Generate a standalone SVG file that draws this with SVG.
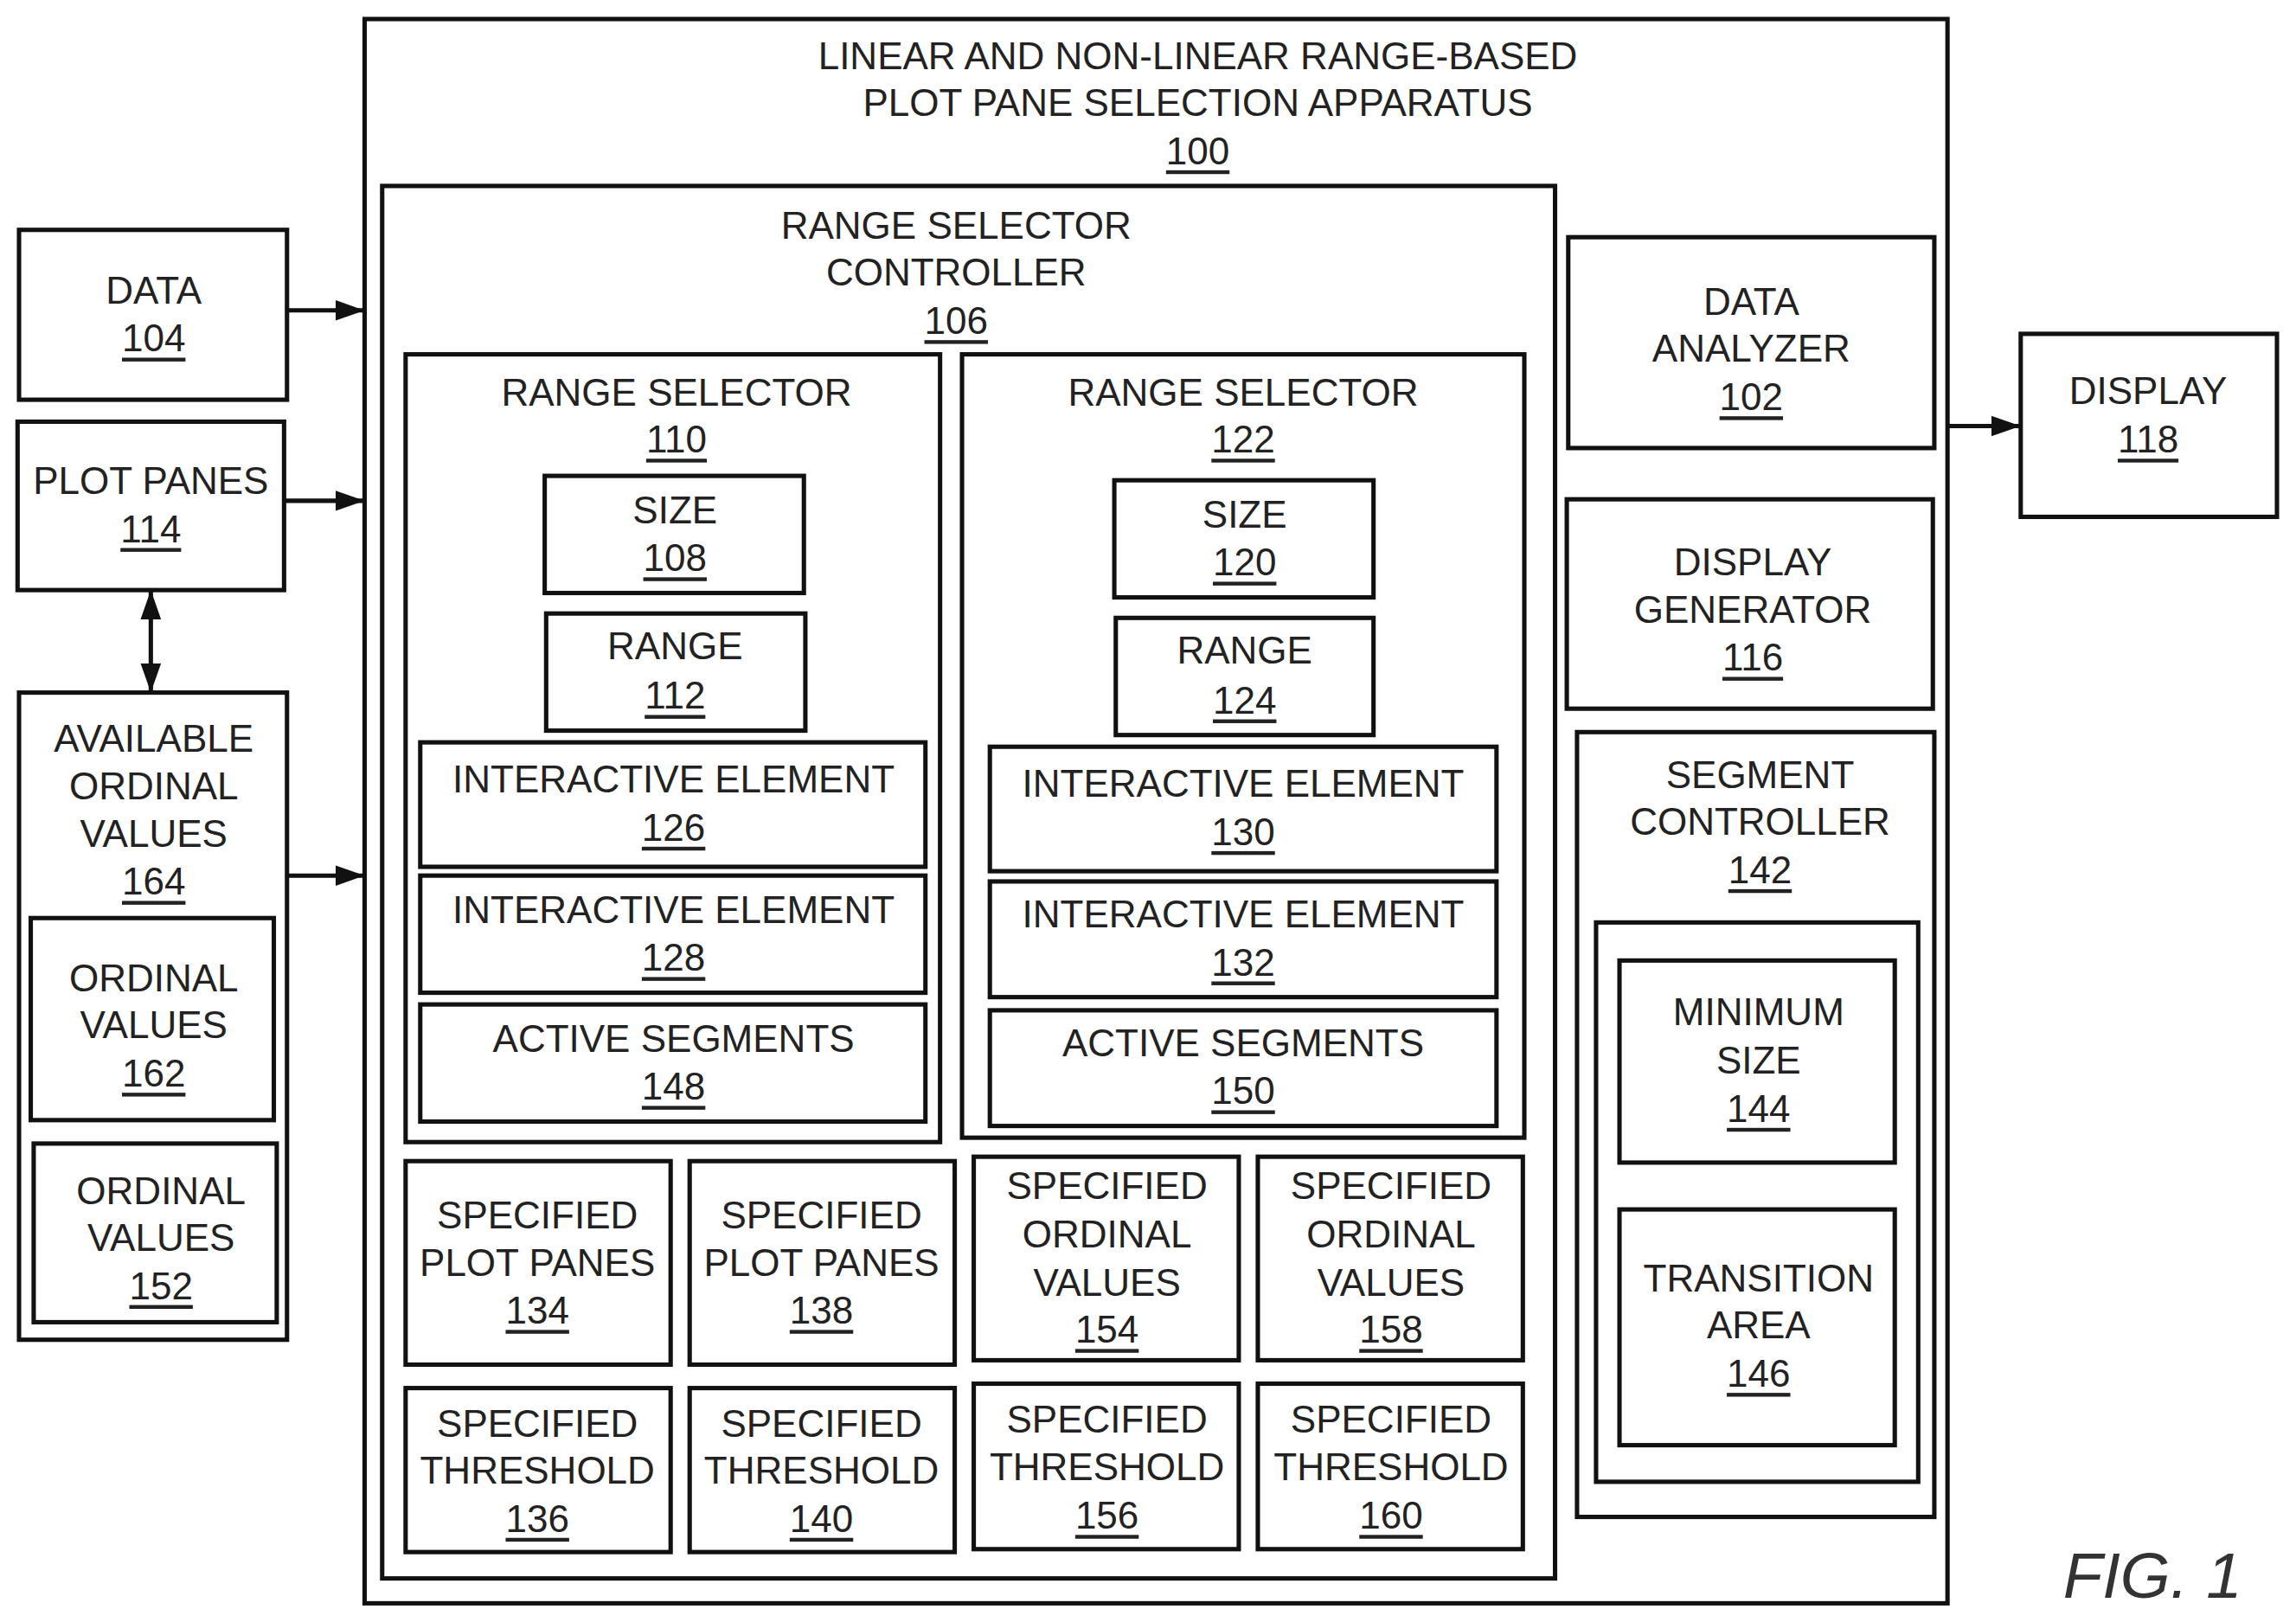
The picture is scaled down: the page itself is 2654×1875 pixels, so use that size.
<svg xmlns="http://www.w3.org/2000/svg" width="2654" height="1875" viewBox="0 0 2654 1875">
<style>
rect{fill:none;stroke:#111;stroke-width:3}
text{font-family:"Liberation Sans",Arial,sans-serif;font-size:26px;fill:#222;text-anchor:middle;dominant-baseline:central}
.u{text-decoration:underline}
.c line{stroke:#111;stroke-width:3}
</style>
<defs><marker id="a" viewBox="0 0 10 10" refX="10" refY="5" markerWidth="20" markerHeight="20" markerUnits="userSpaceOnUse" orient="auto-start-reverse"><path d="M0,1.5L10,5L0,8.5z" fill="#111"/></marker></defs>
<rect x="0" y="0" width="2654" height="1875" style="fill:#fff;stroke:none"/>
<g transform="scale(1.6926)">
<g id="n100"><rect x="249" y="13" width="1081" height="1082"/><text x="818" y="38">LINEAR AND NON-LINEAR RANGE-BASED</text><text x="818" y="70">PLOT PANE SELECTION APPARATUS</text><text x="818" y="103" class="u">100</text></g>
<g id="n106"><rect x="261" y="127" width="801" height="951"/><text x="653" y="154">RANGE SELECTOR</text><text x="653" y="186">CONTROLLER</text><text x="653" y="219" class="u">106</text></g>
<g id="n110"><rect x="277" y="242" width="365" height="538"/><text x="462" y="268">RANGE SELECTOR</text><text x="462" y="300" class="u">110</text></g>
<g id="n108"><rect x="372" y="325" width="177" height="80"/><text x="461" y="348">SIZE</text><text x="461" y="381" class="u">108</text></g>
<g id="n112"><rect x="373" y="419" width="177" height="80"/><text x="461" y="441">RANGE</text><text x="461" y="475" class="u">112</text></g>
<g id="n126"><rect x="287" y="507" width="345" height="85"/><text x="460" y="532">INTERACTIVE ELEMENT</text><text x="460" y="565" class="u">126</text></g>
<g id="n128"><rect x="287" y="598" width="345" height="80"/><text x="460" y="621">INTERACTIVE ELEMENT</text><text x="460" y="654" class="u">128</text></g>
<g id="n148"><rect x="287" y="686" width="345" height="80"/><text x="460" y="709">ACTIVE SEGMENTS</text><text x="460" y="742" class="u">148</text></g>
<g id="n122"><rect x="657" y="242" width="384" height="535"/><text x="849" y="268">RANGE SELECTOR</text><text x="849" y="300" class="u">122</text></g>
<g id="n120"><rect x="761" y="328" width="177" height="80"/><text x="850" y="351">SIZE</text><text x="850" y="384" class="u">120</text></g>
<g id="n124"><rect x="762" y="422" width="176" height="80"/><text x="850" y="444">RANGE</text><text x="850" y="478" class="u">124</text></g>
<g id="n130"><rect x="676" y="510" width="346" height="85"/><text x="849" y="535">INTERACTIVE ELEMENT</text><text x="849" y="568" class="u">130</text></g>
<g id="n132"><rect x="676" y="602" width="346" height="79"/><text x="849" y="624">INTERACTIVE ELEMENT</text><text x="849" y="657" class="u">132</text></g>
<g id="n150"><rect x="676" y="690" width="346" height="79"/><text x="849" y="712">ACTIVE SEGMENTS</text><text x="849" y="745" class="u">150</text></g>
<g id="n134"><rect x="277" y="793" width="181" height="139"/><text x="367" y="830">SPECIFIED</text><text x="367" y="862">PLOT PANES</text><text x="367" y="895" class="u">134</text></g>
<g id="n138"><rect x="471" y="793" width="181" height="139"/><text x="561" y="830">SPECIFIED</text><text x="561" y="862">PLOT PANES</text><text x="561" y="895" class="u">138</text></g>
<g id="n154"><rect x="665" y="790" width="181" height="139"/><text x="756" y="810">SPECIFIED</text><text x="756" y="843">ORDINAL</text><text x="756" y="876">VALUES</text><text x="756" y="908" class="u">154</text></g>
<g id="n158"><rect x="859" y="790" width="181" height="139"/><text x="950" y="810">SPECIFIED</text><text x="950" y="843">ORDINAL</text><text x="950" y="876">VALUES</text><text x="950" y="908" class="u">158</text></g>
<g id="n136"><rect x="277" y="948" width="181" height="112"/><text x="367" y="972">SPECIFIED</text><text x="367" y="1004">THRESHOLD</text><text x="367" y="1037" class="u">136</text></g>
<g id="n140"><rect x="471" y="948" width="181" height="112"/><text x="561" y="972">SPECIFIED</text><text x="561" y="1004">THRESHOLD</text><text x="561" y="1037" class="u">140</text></g>
<g id="n156"><rect x="665" y="945" width="181" height="113"/><text x="756" y="969">SPECIFIED</text><text x="756" y="1002">THRESHOLD</text><text x="756" y="1035" class="u">156</text></g>
<g id="n160"><rect x="859" y="945" width="181" height="113"/><text x="950" y="969">SPECIFIED</text><text x="950" y="1002">THRESHOLD</text><text x="950" y="1035" class="u">160</text></g>
<g id="n102"><rect x="1071" y="162" width="250" height="144"/><text x="1196" y="206">DATA</text><text x="1196" y="238">ANALYZER</text><text x="1196" y="271" class="u">102</text></g>
<g id="n116"><rect x="1070" y="341" width="250" height="143"/><text x="1197" y="384">DISPLAY</text><text x="1197" y="416">GENERATOR</text><text x="1197" y="449" class="u">116</text></g>
<g id="n142"><rect x="1077" y="500" width="244" height="536"/><text x="1202" y="529">SEGMENT</text><text x="1202" y="561">CONTROLLER</text><text x="1202" y="594" class="u">142</text><rect x="1090" y="630" width="220" height="382"/></g>
<g id="n144"><rect x="1106" y="656" width="188" height="138"/><text x="1201" y="691">MINIMUM</text><text x="1201" y="724">SIZE</text><text x="1201" y="757" class="u">144</text></g>
<g id="n146"><rect x="1106" y="826" width="188" height="161"/><text x="1201" y="873">TRANSITION</text><text x="1201" y="905">AREA</text><text x="1201" y="938" class="u">146</text></g>
<g id="n118"><rect x="1380" y="228" width="175" height="125"/><text x="1467" y="267">DISPLAY</text><text x="1467" y="300" class="u">118</text></g>
<g id="n104"><rect x="13" y="157" width="183" height="116"/><text x="105" y="198">DATA</text><text x="105" y="231" class="u">104</text></g>
<g id="n114"><rect x="12" y="288" width="182" height="115"/><text x="103" y="328">PLOT PANES</text><text x="103" y="361" class="u">114</text></g>
<g id="n164"><rect x="13" y="473" width="183" height="442"/><text x="105" y="504">AVAILABLE</text><text x="105" y="537">ORDINAL</text><text x="105" y="569">VALUES</text><text x="105" y="602" class="u">164</text></g>
<g id="n162"><rect x="21" y="627" width="166" height="138"/><text x="105" y="668">ORDINAL</text><text x="105" y="700">VALUES</text><text x="105" y="733" class="u">162</text></g>
<g id="n152"><rect x="23" y="781" width="166" height="122"/><text x="110" y="813">ORDINAL</text><text x="110" y="845">VALUES</text><text x="110" y="878" class="u">152</text></g>
<g class="c">
<line x1="196" y1="212" x2="249" y2="212" marker-end="url(#a)"/>
<line x1="194" y1="342" x2="249" y2="342" marker-end="url(#a)"/>
<line x1="196" y1="598" x2="249" y2="598" marker-end="url(#a)"/>
<line x1="1330" y1="291" x2="1380" y2="291" marker-end="url(#a)"/>
<line x1="103" y1="403" x2="103" y2="473" marker-start="url(#a)" marker-end="url(#a)"/>
</g>
<text x="1470" y="1076" style="font-size:44px;font-style:italic;fill:#333">FIG. 1</text>
</g>
</svg>
